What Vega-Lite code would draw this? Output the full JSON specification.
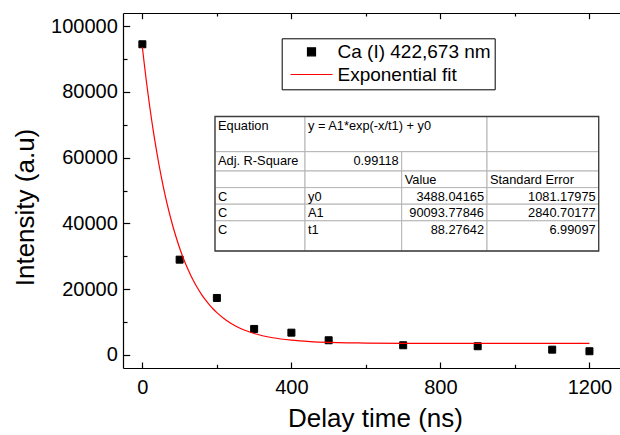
{
  "$schema": "https://vega.github.io/schema/vega-lite/v6.json",
  "width": 497,
  "height": 355,
  "autosize": {"type": "none"},
  "padding": {"left": 123, "top": 13, "right": 0, "bottom": 67},
  "background": "white",
  "config": {
    "view": {"stroke": null},
    "font": "Liberation Sans",
    "axis": {"labelFont": "Liberation Sans", "titleFont": "Liberation Sans", "grid": false, "labelColor": "#000", "titleColor": "#000", "tickColor": "#000", "domainColor": "#000", "titleFontWeight": "normal", "domainWidth": 1.2, "tickWidth": 1.2},
    "legend": {"labelFont": "Liberation Sans"}
  },
  "datasets": {
    "measured": [
      {"delay": 0, "intensity": 94490, "series": "Ca (I) 422,673 nm"},
      {"delay": 100, "intensity": 28960, "series": "Ca (I) 422,673 nm"},
      {"delay": 200, "intensity": 17310, "series": "Ca (I) 422,673 nm"},
      {"delay": 300, "intensity": 7880, "series": "Ca (I) 422,673 nm"},
      {"delay": 400, "intensity": 6750, "series": "Ca (I) 422,673 nm"},
      {"delay": 500, "intensity": 4440, "series": "Ca (I) 422,673 nm"},
      {"delay": 700, "intensity": 2920, "series": "Ca (I) 422,673 nm"},
      {"delay": 900, "intensity": 2620, "series": "Ca (I) 422,673 nm"},
      {"delay": 1100, "intensity": 1580, "series": "Ca (I) 422,673 nm"},
      {"delay": 1200, "intensity": 1100, "series": "Ca (I) 422,673 nm"}
    ],
    "fit": [
      {"delay": 0, "intensity": 93582}, {"delay": 5, "intensity": 88621}, {"delay": 10, "intensity": 83933},
      {"delay": 15, "intensity": 79503}, {"delay": 20, "intensity": 75317}, {"delay": 25, "intensity": 71361},
      {"delay": 30, "intensity": 67625}, {"delay": 35, "intensity": 64093}, {"delay": 40, "intensity": 60755},
      {"delay": 45, "intensity": 57602}, {"delay": 50, "intensity": 54622}, {"delay": 60, "intensity": 49145},
      {"delay": 70, "intensity": 44256}, {"delay": 80, "intensity": 39890}, {"delay": 90, "intensity": 35991},
      {"delay": 100, "intensity": 32510}, {"delay": 110, "intensity": 29402}, {"delay": 120, "intensity": 26626},
      {"delay": 130, "intensity": 24148}, {"delay": 140, "intensity": 21936}, {"delay": 150, "intensity": 19960},
      {"delay": 160, "intensity": 18196}, {"delay": 170, "intensity": 16621}, {"delay": 180, "intensity": 15215},
      {"delay": 190, "intensity": 13959}, {"delay": 200, "intensity": 12837}, {"delay": 225, "intensity": 10531},
      {"delay": 250, "intensity": 8794}, {"delay": 275, "intensity": 7486}, {"delay": 300, "intensity": 6500},
      {"delay": 350, "intensity": 5197}, {"delay": 400, "intensity": 4458}, {"delay": 450, "intensity": 4039},
      {"delay": 500, "intensity": 3801}, {"delay": 550, "intensity": 3665}, {"delay": 600, "intensity": 3589},
      {"delay": 700, "intensity": 3520}, {"delay": 800, "intensity": 3499}, {"delay": 900, "intensity": 3491},
      {"delay": 1000, "intensity": 3489}, {"delay": 1200, "intensity": 3488}
    ],
    "table": [
      {"row": 0, "rowEnd": 1, "col": 0, "colEnd": 1, "text": "Equation", "kind": "label"},
      {"row": 0, "rowEnd": 1, "col": 1, "colEnd": 3, "text": "y = A1*exp(-x/t1) + y0", "kind": "label"},
      {"row": 0, "rowEnd": 1, "col": 3, "colEnd": 4, "text": "", "kind": "label"},
      {"row": 1, "rowEnd": 2, "col": 0, "colEnd": 1, "text": "Adj. R-Square", "kind": "label"},
      {"row": 1, "rowEnd": 2, "col": 1, "colEnd": 2, "text": "0.99118", "kind": "number"},
      {"row": 1, "rowEnd": 2, "col": 2, "colEnd": 3, "text": "", "kind": "label"},
      {"row": 1, "rowEnd": 2, "col": 3, "colEnd": 4, "text": "", "kind": "label"},
      {"row": 2, "rowEnd": 3, "col": 0, "colEnd": 1, "text": "", "kind": "label"},
      {"row": 2, "rowEnd": 3, "col": 1, "colEnd": 2, "text": "", "kind": "label"},
      {"row": 2, "rowEnd": 3, "col": 2, "colEnd": 3, "text": "Value", "kind": "label"},
      {"row": 2, "rowEnd": 3, "col": 3, "colEnd": 4, "text": "Standard Error", "kind": "label"},
      {"row": 3, "rowEnd": 4, "col": 0, "colEnd": 1, "text": "C", "kind": "label"},
      {"row": 3, "rowEnd": 4, "col": 1, "colEnd": 2, "text": "y0", "kind": "label"},
      {"row": 3, "rowEnd": 4, "col": 2, "colEnd": 3, "text": "3488.04165", "kind": "number"},
      {"row": 3, "rowEnd": 4, "col": 3, "colEnd": 4, "text": "1081.17975", "kind": "number"},
      {"row": 4, "rowEnd": 5, "col": 0, "colEnd": 1, "text": "C", "kind": "label"},
      {"row": 4, "rowEnd": 5, "col": 1, "colEnd": 2, "text": "A1", "kind": "label"},
      {"row": 4, "rowEnd": 5, "col": 2, "colEnd": 3, "text": "90093.77846", "kind": "number"},
      {"row": 4, "rowEnd": 5, "col": 3, "colEnd": 4, "text": "2840.70177", "kind": "number"},
      {"row": 5, "rowEnd": 6, "col": 0, "colEnd": 1, "text": "C", "kind": "label"},
      {"row": 5, "rowEnd": 6, "col": 1, "colEnd": 2, "text": "t1", "kind": "label"},
      {"row": 5, "rowEnd": 6, "col": 2, "colEnd": 3, "text": "88.27642", "kind": "number"},
      {"row": 5, "rowEnd": 6, "col": 3, "colEnd": 4, "text": "6.99097", "kind": "number"}
    ],
    "tableFrame": [
      {"row": 0, "rowEnd": 6, "col": 0, "colEnd": 4}
    ]
  },
  "layer": [
    {
      "layer": [
        {
          "data": {"name": "measured"},
          "mark": {"type": "point", "filled": false, "opacity": 1, "size": 49, "strokeWidth": 1, "fill": "#000000", "fillOpacity": 1},
          "encoding": {
            "x": {
              "field": "delay", "type": "quantitative",
              "scale": {"domain": [-52, 1282], "nice": false, "zero": false},
              "axis": {
                "orient": "bottom",
                "values": [0, 200, 400, 600, 800, 1000, 1200],
                "format": "d",
                "labelExpr": "datum.value % 400 === 0 ? datum.label : ''",
                "tickSize": {"condition": {"test": "datum.value % 400 === 0", "value": -6}, "value": -3.7},
                "labelFontSize": 20,
                "labelPadding": 15.6,
                "labelFlush": false,
                "labelOverlap": false,
                "title": "Delay time (ns)",
                "titleFontSize": 26,
                "titleBaseline": "alphabetic",
                "titleX": 252,
                "titleY": 58
              }
            },
            "y": {
              "field": "intensity", "type": "quantitative",
              "scale": {"domain": [-4000, 104000], "nice": false, "zero": false},
              "axis": {
                "orient": "left",
                "values": [0, 10000, 20000, 30000, 40000, 50000, 60000, 70000, 80000, 90000, 100000],
                "format": "d",
                "labelExpr": "datum.value % 20000 === 0 ? datum.label : ''",
                "tickSize": {"condition": {"test": "datum.value % 20000 === 0", "value": -6.7}, "value": -4},
                "labelFontSize": 20,
                "labelPadding": 12.4,
                "labelFlush": false,
                "labelOverlap": false,
                "title": "Intensity (a.u)",
                "titleFontSize": 26,
                "titleAngle": 270,
                "titleBaseline": "alphabetic",
                "titleAlign": "center",
                "titleX": -90,
                "titleY": 194
              }
            },
            "color": {
              "field": "series", "type": "nominal",
              "scale": {"domain": ["Ca (I) 422,673 nm", "Exponential fit"], "range": ["#000000", "#ff0000"]},
              "legend": {
                "orient": "none", "legendX": 158.7, "legendY": 25.3, "title": null,
                "labelFontSize": 19, "labelColor": "#000", "symbolSize": 64, "symbolOffset": 16.3, "labelOffset": 16.5,
                "symbolStrokeWidth": 1.2, "symbolFillColor": "#000000",
                "padding": 4, "rowPadding": 2.7, "strokeColor": "#000", "fillColor": "#fff"
              }
            },
            "shape": {
              "field": "series", "type": "nominal",
              "scale": {"domain": ["Ca (I) 422,673 nm", "Exponential fit"], "range": ["square", "M-5.25,0H5.25"]},
              "legend": {
                "orient": "none", "legendX": 158.7, "legendY": 25.3, "title": null,
                "labelFontSize": 19, "labelColor": "#000", "symbolSize": 64, "symbolOffset": 16.3, "labelOffset": 16.5,
                "symbolStrokeWidth": 1.2, "symbolFillColor": "#000000",
                "padding": 4, "rowPadding": 2.7, "strokeColor": "#000", "fillColor": "#fff"
              }
            }
          }
        },
        {
          "data": {"name": "fit"},
          "mark": {"type": "line", "color": "#ff0000", "strokeWidth": 1.2, "interpolate": "monotone"},
          "encoding": {
            "x": {
              "field": "delay", "type": "quantitative",
              "axis": {
                "orient": "top",
                "values": [0, 200, 400, 600, 800, 1000, 1200],
                "labels": false,
                "title": null,
                "tickSize": {"condition": {"test": "datum.value % 400 === 0", "value": -5.7}, "value": -3}
              }
            },
            "y": {"field": "intensity", "type": "quantitative", "axis": null}
          }
        }
      ],
      "resolve": {"axis": {"x": "independent", "y": "independent"}}
    },
    {
      "layer": [
        {
          "data": {"name": "table"},
          "mark": {"type": "rect", "fill": "#ffffff", "stroke": "#b4b4b4", "strokeWidth": 1},
          "encoding": {
            "x": {"field": "col", "type": "quantitative", "scale": {"domain": [0, 1, 2, 3, 4], "range": [92, 182, 278.7, 364, 475.7], "nice": false, "zero": false}, "axis": null},
            "x2": {"field": "colEnd"},
            "y": {"field": "row", "type": "quantitative", "scale": {"domain": [0, 1, 2, 3, 4, 5, 6], "range": [103.5, 138.7, 158, 174.6, 191.2, 207.8, 238], "nice": false, "zero": false}, "axis": null},
            "y2": {"field": "rowEnd"}
          }
        },
        {
          "data": {"name": "tableFrame"},
          "mark": {"type": "rect", "fill": null, "stroke": "#3c3c3c", "strokeWidth": 1.3},
          "encoding": {
            "x": {"field": "col", "type": "quantitative", "axis": null},
            "x2": {"field": "colEnd"},
            "y": {"field": "row", "type": "quantitative", "axis": null},
            "y2": {"field": "rowEnd"}
          }
        },
        {
          "data": {"name": "table"},
          "transform": [{"filter": "datum.kind === 'label'"}],
          "mark": {"type": "text", "align": "left", "baseline": "middle", "dx": 3, "dy": 9, "fontSize": 12.8, "font": "Liberation Sans", "color": "#000"},
          "encoding": {
            "x": {"field": "col", "type": "quantitative", "axis": null},
            "y": {"field": "row", "type": "quantitative", "axis": null},
            "text": {"field": "text"}
          }
        },
        {
          "data": {"name": "table"},
          "transform": [{"filter": "datum.kind === 'number'"}],
          "mark": {"type": "text", "align": "right", "baseline": "middle", "dx": -3, "dy": 9, "fontSize": 12.8, "font": "Liberation Sans", "color": "#000"},
          "encoding": {
            "x": {"field": "colEnd", "type": "quantitative", "axis": null},
            "y": {"field": "row", "type": "quantitative", "axis": null},
            "text": {"field": "text"}
          }
        }
      ]
    }
  ],
  "resolve": {"scale": {"x": "independent", "y": "independent"}}
}
